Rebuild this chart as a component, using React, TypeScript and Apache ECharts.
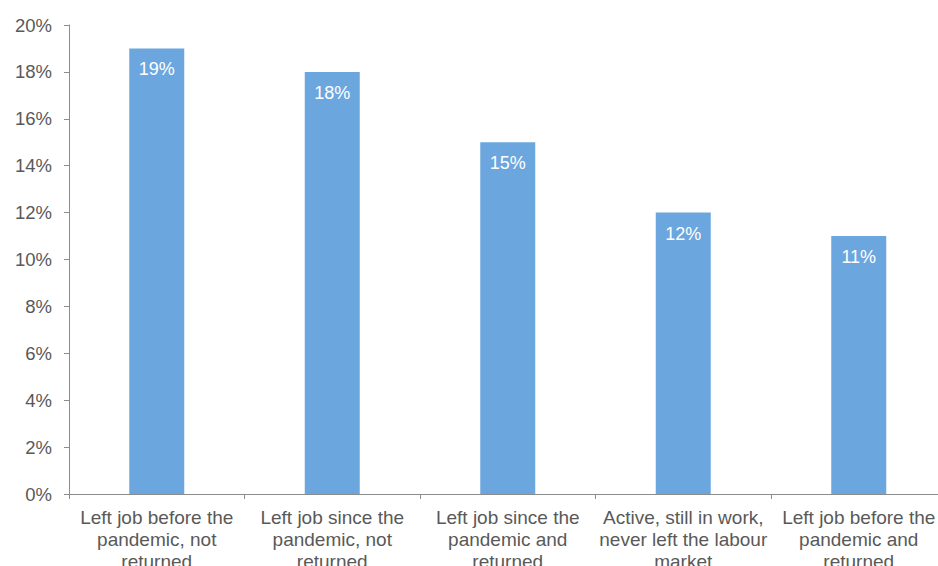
import React, { useEffect, useRef } from "react";
import * as echarts from "echarts";

const categories = [
  "Left job before the\npandemic, not\nreturned",
  "Left job since the\npandemic, not\nreturned",
  "Left job since the\npandemic and\nreturned",
  "Active, still in work,\nnever left the labour\nmarket",
  "Left job before the\npandemic and\nreturned",
];
const values = [19, 18, 15, 12, 11];
const yTicks = { min: 0, max: 20, interval: 2 };

export default function App() {
  const ref = useRef<HTMLDivElement>(null);
  useEffect(() => {
    const chart = echarts.init(ref.current!, null, { renderer: "svg" });
    const textColor = "#595959";
    const axisColor = "#8c8c8c";
    const font = "Arial, 'Liberation Sans', sans-serif";
    chart.setOption({
      animation: false,
      grid: {
        left: 69,
        top: 25,
        bottom: 72,
        right: -8.5,
        containLabel: false,
        outerBoundsMode: "none",
      },
      xAxis: {
        type: "category",
        data: categories,
        axisLine: { show: true, lineStyle: { color: axisColor, width: 1 } },
        axisTick: { show: true, length: 5, interval: 0, lineStyle: { color: axisColor } },
        axisLabel: {
          interval: 0,
          color: textColor,
          fontSize: 19,
          fontFamily: font,
          lineHeight: 22,
          margin: 12,
          hideOverlap: false,
        },
      },
      yAxis: {
        type: "value",
        min: yTicks.min,
        max: yTicks.max,
        interval: yTicks.interval,
        splitLine: { show: false },
        axisLine: { show: true, lineStyle: { color: axisColor, width: 1 } },
        axisTick: { show: true, length: 5, lineStyle: { color: axisColor } },
        axisLabel: {
          color: textColor,
          fontSize: 18.5,
          fontFamily: font,
          margin: 17,
          formatter: (v: number) => v + "%",
        },
      },
      series: [
        {
          type: "bar",
          data: values,
          barWidth: 55,
          itemStyle: { color: "#6CA6DE" },
          label: {
            show: true,
            position: "insideTop",
            distance: 12,
            color: "#ffffff",
            fontSize: 18,
            fontFamily: font,
            formatter: (p: any) => p.value + "%",
          },
        },
      ],
    });
    return () => chart.dispose();
  }, []);
  return (
    <div
      ref={ref}
      style={{ position: "fixed", left: 0, top: 0, width: 938, height: 566, background: "#fff" }}
    />
  );
}
